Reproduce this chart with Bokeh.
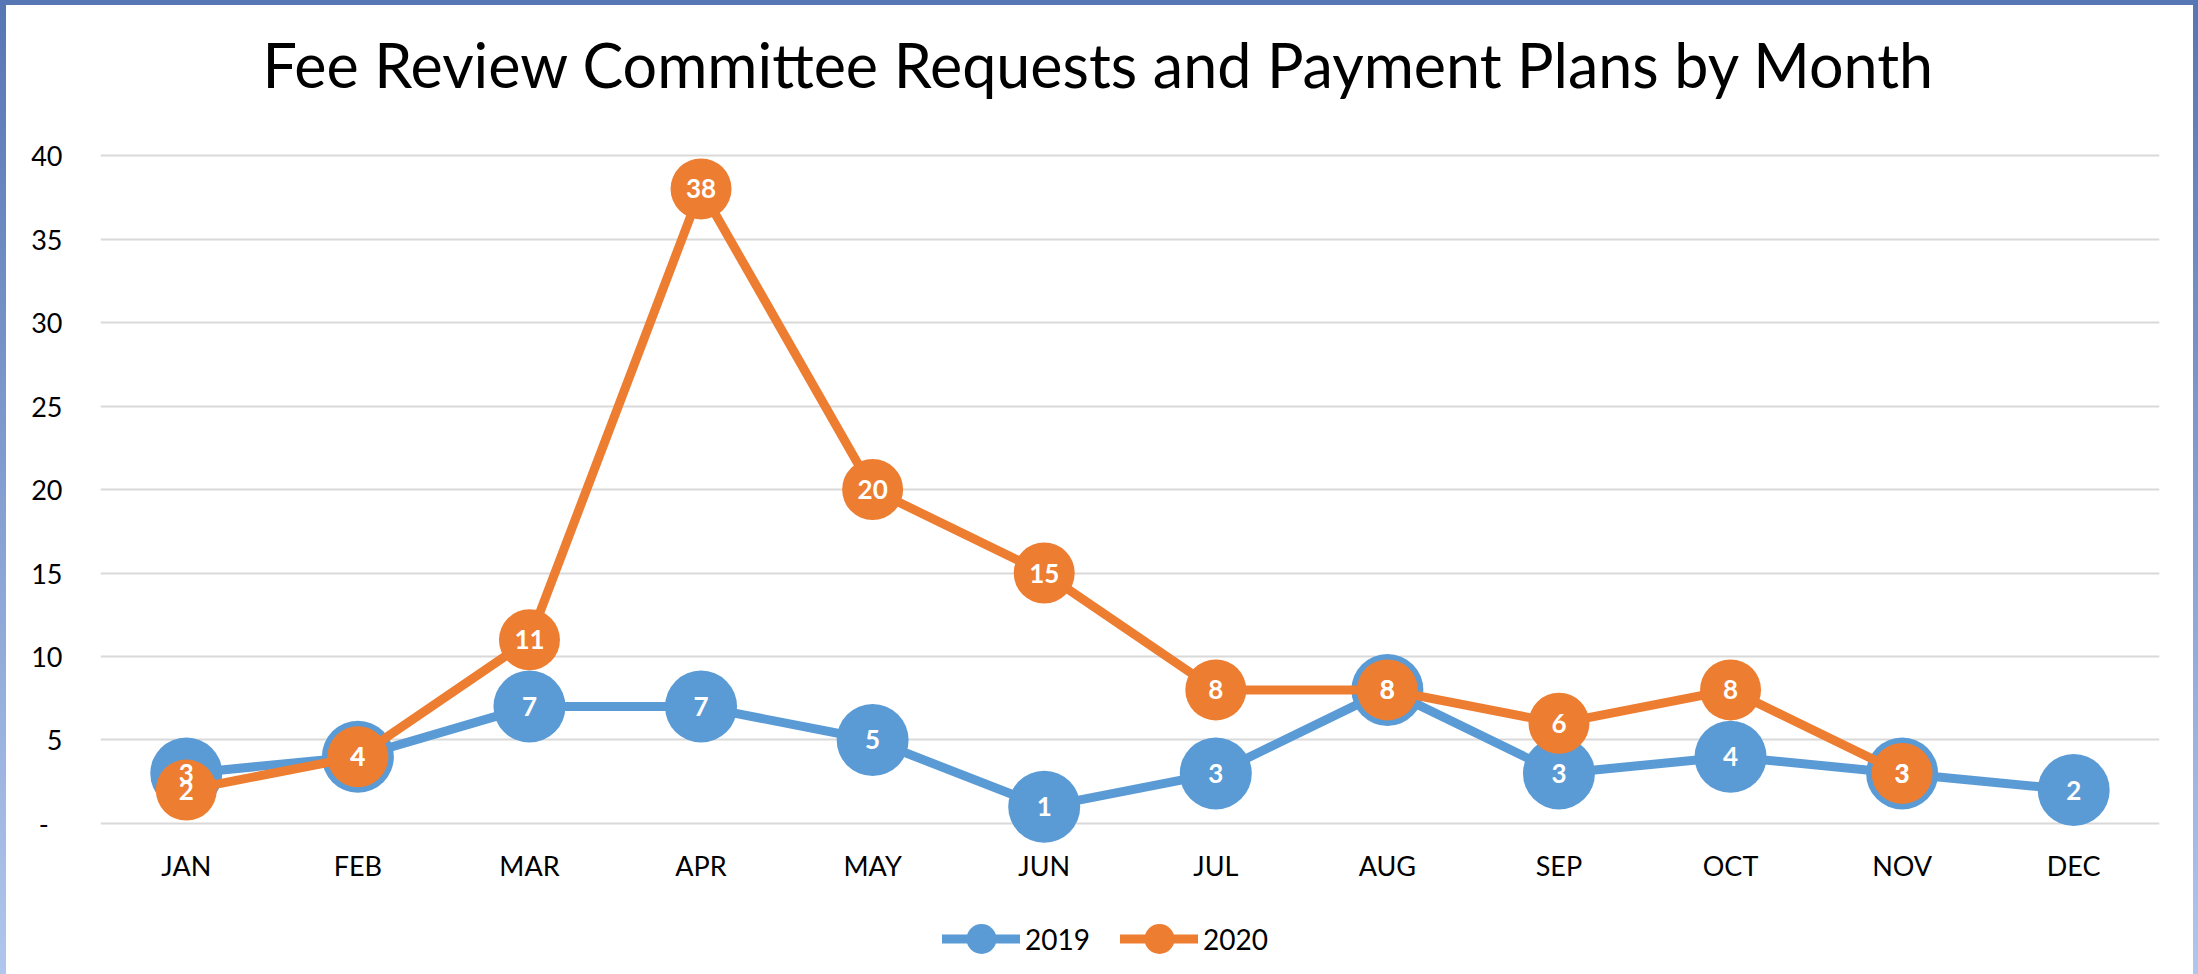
from bokeh.plotting import figure
from bokeh.models import FactorRange, Range1d, FixedTicker, Legend, LegendItem
from bokeh.layouts import column
from bokeh.core.properties import value
from bokeh.embed import file_html
from bokeh.resources import INLINE

months = ["JAN", "FEB", "MAR", "APR", "MAY", "JUN", "JUL", "AUG", "SEP", "OCT", "NOV", "DEC"]
v2019 = [3, 4, 7, 7, 5, 1, 3, 8, 3, 4, 3, 2]
months_2020 = months[:11]
v2020 = [2, 4, 11, 38, 20, 15, 8, 8, 6, 8, 3]
y_ticks = [0, 5, 10, 15, 20, 25, 30, 35, 40]
y_tick_labels = ["-\u00a0\u00a0", "5", "10", "15", "20", "25", "30", "35", "40"]

BLUE = "#5B9BD5"
ORANGE = "#ED7D31"
FONT = "Lato"

p = figure(width=2187, height=969,
           x_range=FactorRange(*months), y_range=Range1d(-9.042, 42.096),
           output_backend="svg", toolbar_location=None,
           min_border_left=94, min_border_right=34, min_border_top=115, min_border_bottom=0)
p.background_fill_color = "white"
p.border_fill_color = "white"
p.outline_line_color = None
p.styles = {"background-color": "white"}

p.title.text = "Fee Review Committee Requests and Payment Plans by Month"
p.title.align = "left"
p.title.text_font = FONT
p.title.text_font_size = "61px"
p.title.text_font_style = "normal"
p.title.text_color = "#000000"
p.title.standoff = 39
p.title.offset = 162

p.xgrid.grid_line_color = None
p.ygrid.grid_line_color = "#D9D9D9"
p.ygrid.grid_line_width = 2
p.yaxis.ticker = FixedTicker(ticks=y_ticks)
p.yaxis.major_label_overrides = {t: l for t, l in zip(y_ticks, y_tick_labels)}
for ax in (p.xaxis, p.yaxis):
    ax.axis_line_color = None
    ax.major_tick_line_color = None
    ax.minor_tick_line_color = None
    ax.major_label_text_font = FONT
    ax.major_label_text_font_size = "27px"
    ax.major_label_text_color = "#000000"
p.yaxis.major_label_standoff = 32
p.xaxis.fixed_location = 0
p.xaxis.major_label_standoff = 20

l1 = p.line(months, v2019, line_color=BLUE, line_width=9, line_join="round", line_cap="round")
s1 = p.scatter(months, v2019, size=72, fill_color=BLUE, line_color=None)
l2 = p.line(months_2020, v2020, line_color=ORANGE, line_width=9, line_join="round", line_cap="round")
s2 = p.scatter(months_2020, v2020, size=61, fill_color=ORANGE, line_color=None)

for xs, vs in ((months, v2019), (months_2020, v2020)):
    p.text(x=xs, y=vs, text=[str(v) for v in vs], text_align="center", text_baseline="middle",
           text_font=value(FONT), text_font_style="bold", text_font_size="26px", text_color="white",
           y_offset=0)

legend = Legend(items=[LegendItem(label="2019", renderers=[l1, s1]),
                       LegendItem(label="2020", renderers=[l2, s2])],
                orientation="horizontal", location=(842, -2),
                glyph_width=78, glyph_height=75, label_standoff=5, spacing=30,
                label_text_font=FONT, label_text_font_size="28px", label_text_color="#000000",
                border_line_color=None, background_fill_alpha=0, padding=0, margin=0)
p.add_layout(legend, "center")

layout = column(p, styles={"padding": "5px 5px 0px 6px",
                           "background": "linear-gradient(#5676b4, #b0c6ec)"})

open("out.html", "w").write(file_html(layout, INLINE))
